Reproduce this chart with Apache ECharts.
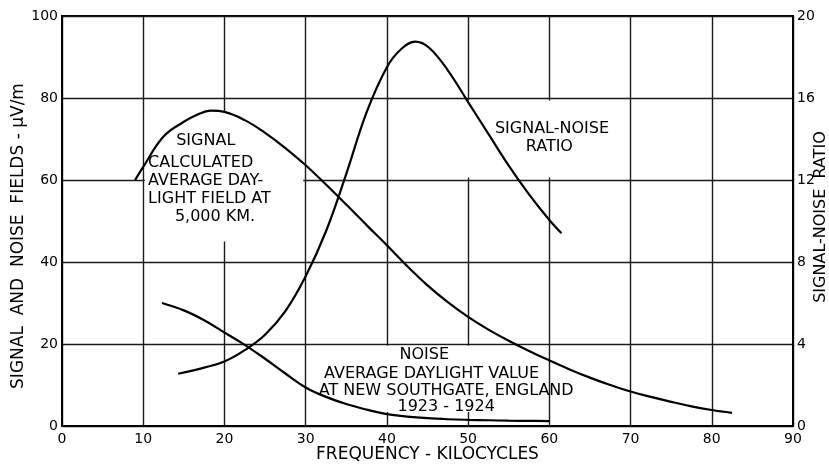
<!DOCTYPE html>
<html>
<head>
<meta charset="utf-8">
<script src="https://cdn.jsdelivr.net/npm/echarts@6/dist/echarts.min.js"></script>
<style>
  html, body { margin: 0; padding: 0; background: #fff; }
  #chart { width: 829px; height: 466px; }
</style>
</head>
<body>
<div id="chart"></div>
<script>
// Calculated average daylight signal field at 5,000 km (µV/m)
const signalFreq  = [9, 10, 12.5, 15, 16.7, 18.3, 20, 22.5, 25, 27.5, 30, 32.5, 35, 37.5, 40, 42.5, 45, 47.5, 50, 52.5, 55, 57.5, 60, 62.5, 65, 67.5, 70, 72.5, 75, 77.5, 80, 82.5];
const signalField = [60, 63.2, 70.6, 74.2, 76.0, 76.9, 76.6, 74.6, 71.5, 67.8, 63.6, 58.9, 54.0, 49.0, 44.1, 39.0, 34.3, 30.2, 26.6, 23.5, 20.8, 18.3, 16.0, 13.8, 11.8, 10.0, 8.4, 7.1, 5.9, 4.8, 3.9, 3.2];

// Average daylight noise at New Southgate, England, 1923-1924 (µV/m)
const noiseFreq  = [12.3, 15, 17.5, 20, 22.5, 25, 27.5, 30, 32.5, 35, 37.5, 40, 42.5, 45, 47.5, 50, 52.5, 55, 57.5, 60];
const noiseField = [30, 28.2, 25.8, 22.8, 19.8, 16.4, 12.8, 9.4, 7.1, 5.35, 4.0, 2.9, 2.3, 1.9, 1.65, 1.5, 1.4, 1.3, 1.25, 1.2];

// Signal-noise ratio (right scale)
const ratioFreq  = [14.3, 17.5, 20, 22.5, 25, 27.5, 30, 32.5, 35, 37.5, 40, 41.8, 43.5, 45.2, 47.5, 50, 52.5, 55, 57.5, 60, 61.5];
const ratioValue = [2.55, 2.85, 3.15, 3.7, 4.45, 5.6, 7.3, 9.5, 12.3, 15.3, 17.5, 18.4, 18.75, 18.45, 17.35, 15.8, 14.25, 12.7, 11.3, 10.05, 9.4];

const freqTicks  = [0, 10, 20, 30, 40, 50, 60, 70, 80, 90];
const fieldTicks = [0, 20, 40, 60, 80, 100];
const ratioTicks = [0, 4, 8, 12, 16, 20];

const pairs = (xs, ys) => xs.map((x, i) => [x, ys[i]]);

const FONT = 'DejaVu Sans';
const INK = '#000';

// Clear panels behind the lettered notes (in field/frequency units)
const notePanels = [
  [[10.2, 45], [29.7, 76.4]],
  [[30.4, 3.4], [59.7, 19.6]],
  [[49.6, 60.6], [65, 79.4]]
];

// Lettered notes: [frequency, field, text, align]
const notes = [
  [17.7, 69.6, 'SIGNAL', 'center'],
  [10.6, 64.2, 'CALCULATED', 'left'],
  [10.6, 59.9, 'AVERAGE DAY-', 'left'],
  [10.6, 55.5, 'LIGHT FIELD AT', 'left'],
  [13.9, 51.0, '5,000 KM.', 'left'],
  [44.6, 17.3, 'NOISE', 'center'],
  [45.5, 12.6, 'AVERAGE DAYLIGHT VALUE', 'center'],
  [47.3, 8.6, 'AT NEW SOUTHGATE, ENGLAND', 'center'],
  [47.3, 4.6, '1923 - 1924', 'center'],
  [53.3, 72.4, 'SIGNAL-NOISE', 'left'],
  [60.0, 68.2, 'RATIO', 'center']
];

const chart = echarts.init(document.getElementById('chart'));

const tickLabel = { color: INK, fontFamily: FONT, fontSize: 14 };
const curve = { type: 'line', z: 3, smooth: 0.4, showSymbol: false, lineStyle: { color: INK, width: 2.2 } };

chart.setOption({
  animation: false,
  backgroundColor: '#fff',
  grid: {
    left: 62, right: 36, top: 16, bottom: 40,
    outerBoundsMode: 'none', containLabel: false,
    show: true, borderColor: INK, borderWidth: 2
  },
  xAxis: {
    type: 'value', min: 0, max: 90, interval: 10,
    axisLine: { show: true, lineStyle: { color: INK, width: 2 } },
    axisTick: { show: false },
    axisLabel: Object.assign({ margin: 6, formatter: v => freqTicks.includes(v) ? String(v) : '' }, tickLabel),
    splitLine: { show: true, lineStyle: { color: '#1a1a1a', width: 1.4 } }
  },
  yAxis: [
    {
      type: 'value', min: 0, max: 100, interval: 20,
      axisLine: { show: true, lineStyle: { color: INK, width: 2 } },
      axisTick: { show: false },
      axisLabel: Object.assign({ margin: 4, formatter: v => fieldTicks.includes(v) ? String(v) : '' }, tickLabel),
      splitLine: { show: true, lineStyle: { color: '#1a1a1a', width: 1.4 } }
    },
    {
      type: 'value', min: 0, max: 20, interval: 4, position: 'right',
      axisLine: { show: true, lineStyle: { color: INK, width: 2 } },
      axisTick: { show: false },
      axisLabel: Object.assign({ margin: 4, formatter: v => ratioTicks.includes(v) ? String(v) : '' }, tickLabel),
      splitLine: { show: false }
    }
  ],
  series: [
    {
      name: 'panels', type: 'line', data: [], silent: true,
      markArea: {
        silent: true, z: 1,
        itemStyle: { color: '#fff', opacity: 1 },
        data: notePanels.map(p => [{ coord: p[0] }, { coord: p[1] }])
      }
    },
    Object.assign({ name: 'Signal', yAxisIndex: 0, data: pairs(signalFreq, signalField) }, curve),
    Object.assign({ name: 'Noise', yAxisIndex: 0, data: pairs(noiseFreq, noiseField) }, curve),
    Object.assign({ name: 'Signal-noise ratio', yAxisIndex: 1, data: pairs(ratioFreq, ratioValue) }, curve)
  ]
});

// Lettered notes placed from data coordinates, plus the three axis titles
const gridRect = chart.getModel().getComponent('grid', 0).coordinateSystem.getRect();
const midX = gridRect.x + gridRect.width / 2;
const midY = gridRect.y + gridRect.height / 2;

const titleStyle = (text, size) => ({ text: text, fill: INK, font: size + 'px "' + FONT + '"', textAlign: 'center', textVerticalAlign: 'middle' });

chart.setOption({
  graphic: notes.map(n => {
    const p = chart.convertToPixel({ xAxisIndex: 0, yAxisIndex: 0 }, [n[0], n[1]]);
    return {
      type: 'text', x: p[0], y: p[1], z: 10,
      style: { text: n[2], fill: INK, font: '16px "' + FONT + '"', textAlign: n[3], textVerticalAlign: 'middle' }
    };
  }).concat([
    { type: 'text', x: midX, y: gridRect.y + gridRect.height + 29, z: 10, style: titleStyle('FREQUENCY - KILOCYCLES', 17) },
    { type: 'text', x: 19, y: midY + 15, rotation: Math.PI / 2, z: 10, style: titleStyle('SIGNAL  AND  NOISE  FIELDS - μV/m', 17) },
    { type: 'text', x: 821, y: midY - 4, rotation: Math.PI / 2, z: 10, style: titleStyle('SIGNAL-NOISE  RATIO', 16) }
  ])
});
</script>
</body>
</html>
